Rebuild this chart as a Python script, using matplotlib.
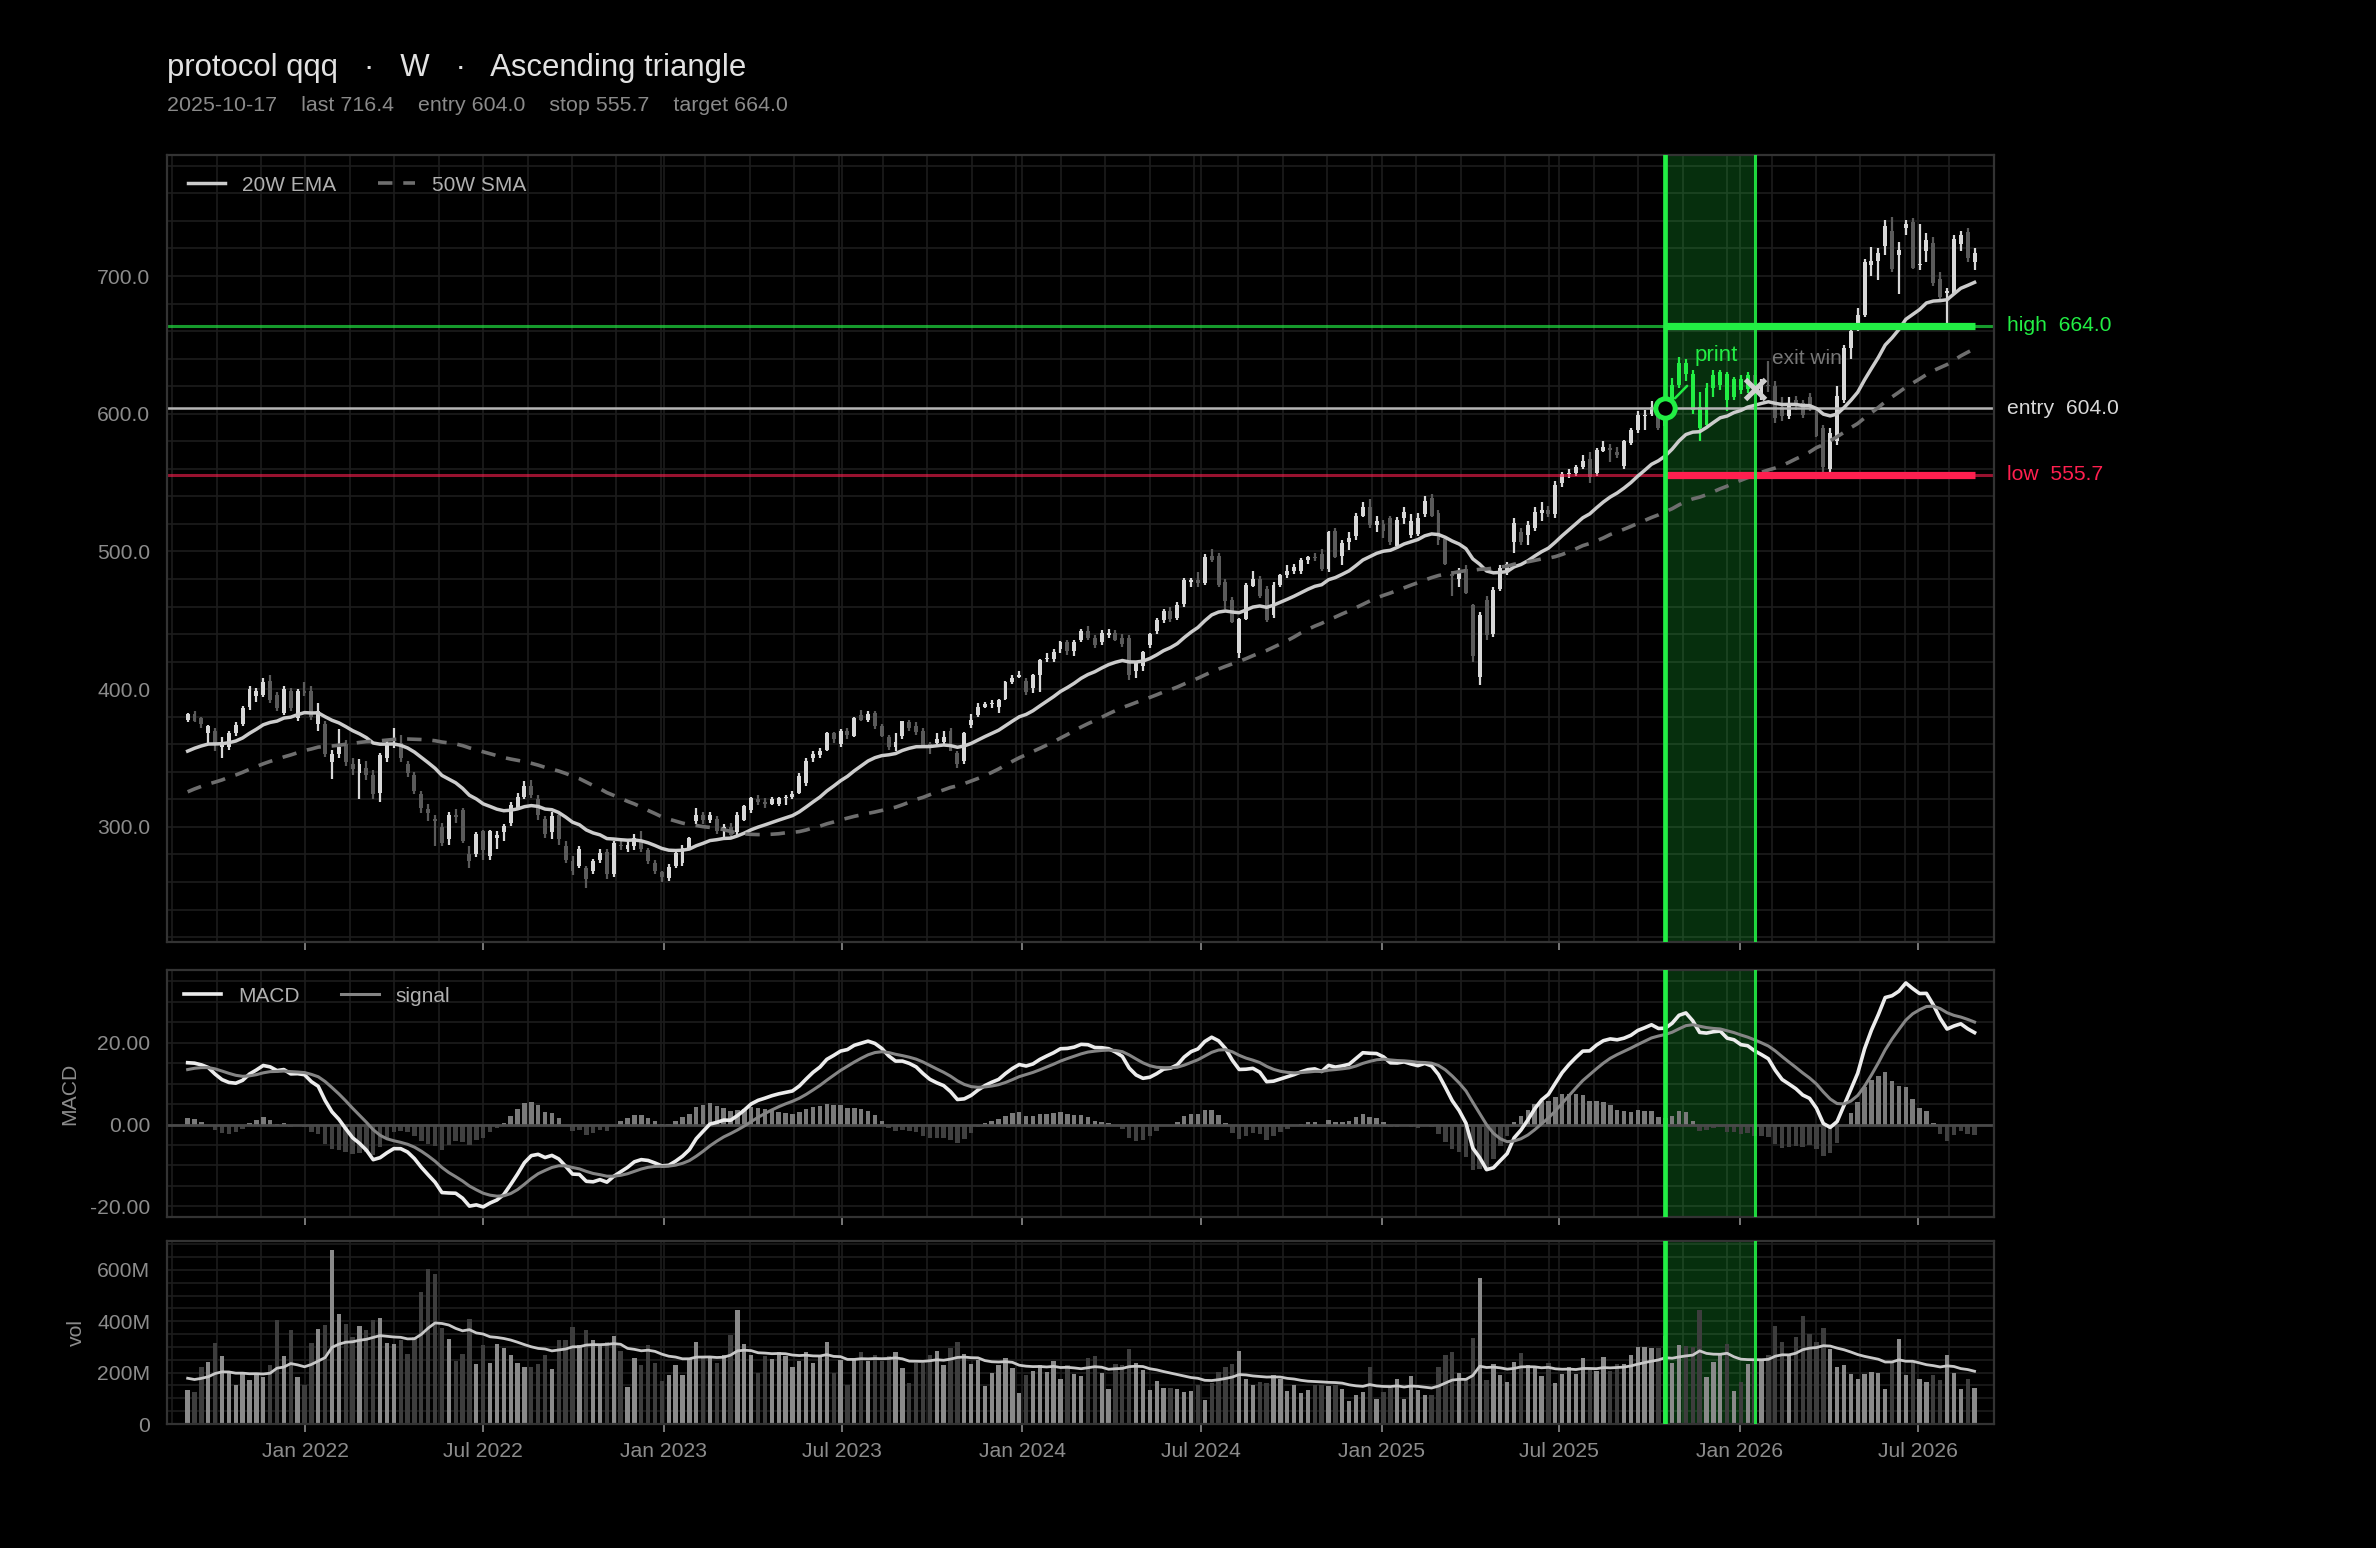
import numpy as np
import pandas as pd
import matplotlib
matplotlib.use('Agg')
import matplotlib.pyplot as plt
import matplotlib.dates as mdates
import matplotlib.transforms as mtrans
from matplotlib.ticker import AutoMinorLocator, MultipleLocator, FormatStrFormatter, FuncFormatter

plt.rcParams['font.family'] = ['Liberation Sans', 'DejaVu Sans']

# ---- data ----
ticker = 'protocol qqq'
timeframe = 'W'
pattern = 'Ascending triangle'
signal_day = '2025-10-17'
exit_day = '2026-01-16'
entry = 604.0
stop = 555.7
target = 664.0

weeks = pd.date_range('2021-09-03', periods=261, freq='W-FRI')

opens = [378, 382, 379, 368, 370, 358, 358, 368, 375, 387, 395, 396, 406, 396, 383, 399, 379, 399, 399, 375,
         375, 347, 353, 360, 346, 339, 343, 338, 325, 350, 360, 361, 346, 338, 324, 313, 306, 300, 291, 309,
         312, 280, 280, 297, 279, 292, 296, 303, 314, 322, 330, 320, 306, 296, 309, 286, 275, 272, 270, 268,
         276, 282, 266, 287, 284, 286, 290, 283, 274, 267, 263, 272, 274, 285, 304, 309, 305, 306, 297, 300,
         296, 305, 312, 320, 318, 317, 317, 321, 322, 325, 332, 350, 352, 356, 368, 360, 370, 366, 381, 378,
         383, 373, 365, 358, 366, 376, 373, 370, 360, 361, 362, 370, 354, 348, 374, 381, 387, 389, 387, 393,
         405, 409, 406, 401, 410, 422, 422, 429, 434, 428, 436, 442, 437, 434, 439, 441, 437, 437, 413, 417,
         432, 442, 450, 457, 452, 462, 478, 479, 477, 497, 497, 478, 465, 426, 451, 475, 480, 473, 454, 476,
         483, 486, 486, 494, 496, 498, 487, 515, 497, 507, 511, 526, 532, 519, 520, 524, 504, 524, 512, 513,
         527, 539, 528, 509, 484, 480, 487, 461, 409, 465, 440, 473, 486, 507, 514, 512, 517, 528, 530, 527,
         550, 556, 557, 561, 567, 557, 573, 575, 572, 562, 579, 588, 598, 600, 603, 591, 604, 621, 637, 629,
         605, 592, 619, 621, 629, 612, 625, 618, 628, 614, 621, 620, 605, 598, 610, 608, 612, 601, 590, 560,
         580, 610, 648, 663, 672, 708, 711, 722, 733, 715, 735, 739, 708, 718, 724, 698, 688, 688, 723, 732,
         710]
highs = [383, 384, 380, 374, 372, 365, 370, 376, 388, 402, 401, 408, 410, 398, 402, 401, 400, 405, 402, 390,
         377, 356, 371, 363, 350, 349, 348, 341, 354, 364, 372, 367, 348, 340, 326, 317, 309, 303, 311, 313,
         314, 286, 296, 298, 298, 297, 302, 318, 325, 333, 334, 323, 308, 311, 311, 290, 279, 286, 272, 277,
         284, 284, 290, 290, 290, 295, 297, 285, 276, 268, 273, 283, 287, 293, 314, 311, 311, 308, 302, 303,
         311, 316, 322, 323, 321, 322, 322, 323, 326, 339, 350, 355, 357, 369, 369, 371, 372, 380, 385, 384,
         384, 375, 367, 368, 377, 378, 376, 372, 362, 368, 370, 372, 355, 369, 382, 390, 391, 392, 393, 406,
         410, 413, 408, 411, 422, 426, 429, 435, 436, 436, 444, 446, 439, 443, 444, 443, 440, 439, 420, 428,
         441, 452, 458, 460, 463, 481, 481, 485, 498, 502, 499, 480, 467, 452, 477, 486, 482, 475, 478, 484,
         490, 491, 495, 497, 499, 502, 515, 517, 508, 514, 528, 536, 538, 526, 523, 526, 525, 532, 527, 528,
         540, 542, 530, 511, 486, 488, 490, 462, 456, 468, 474, 490, 492, 524, 517, 522, 532, 536, 533, 551,
         558, 560, 563, 570, 572, 575, 580, 578, 576, 581, 590, 602, 603, 609, 607, 606, 626, 641, 640, 632,
         616, 622, 632, 632, 630, 627, 628, 630, 632, 625, 638, 624, 612, 612, 613, 610, 615, 603, 592, 590,
         620, 650, 662, 677, 712, 721, 720, 741, 743, 725, 741, 742, 738, 731, 728, 703, 691, 730, 733, 735,
         720]
lows = [376, 376, 372, 361, 355, 350, 356, 366, 373, 385, 391, 394, 390, 384, 381, 384, 377, 395, 378, 370,
        351, 335, 350, 344, 338, 320, 334, 320, 318, 347, 357, 347, 336, 324, 310, 304, 286, 286, 287, 303,
        288, 270, 278, 276, 276, 284, 290, 301, 312, 320, 321, 305, 292, 291, 287, 274, 265, 270, 256, 266,
        274, 262, 264, 283, 282, 283, 282, 273, 266, 260, 261, 270, 272, 283, 302, 302, 303, 295, 292, 291,
        294, 304, 310, 316, 314, 316, 315, 316, 320, 324, 330, 347, 350, 355, 361, 358, 364, 365, 377, 376,
        371, 365, 356, 355, 364, 370, 367, 358, 353, 358, 360, 355, 343, 346, 372, 380, 386, 386, 383, 392,
        404, 408, 396, 397, 398, 420, 420, 426, 425, 424, 434, 436, 430, 432, 437, 435, 431, 407, 408, 413,
        430, 440, 448, 449, 450, 460, 474, 474, 476, 492, 474, 458, 448, 423, 450, 474, 466, 449, 452, 474,
        481, 484, 484, 491, 493, 486, 485, 495, 490, 501, 508, 525, 517, 514, 510, 505, 502, 520, 510, 511,
        525, 525, 505, 490, 468, 474, 469, 420, 403, 436, 438, 471, 483, 499, 505, 505, 515, 522, 525, 524,
        547, 553, 555, 560, 550, 555, 572, 565, 568, 560, 577, 586, 588, 598, 588, 588, 600, 619, 624, 600,
        580, 590, 612, 617, 602, 610, 614, 615, 615, 610, 616, 593, 595, 596, 603, 597, 602, 583, 558, 555,
        577, 608, 640, 660, 670, 700, 697, 715, 703, 687, 730, 705, 704, 710, 693, 683, 666, 686, 718, 710,
        704]
closes = [382, 377, 375, 373, 361, 362, 368, 374, 386, 400, 399, 405, 392, 386, 400, 386, 399, 397, 380, 384,
          353, 353, 358, 347, 342, 346, 338, 324, 352, 361, 361, 350, 339, 326, 314, 310, 304, 288, 309, 307,
          290, 275, 295, 283, 297, 294, 301, 316, 322, 330, 323, 309, 295, 308, 291, 276, 268, 284, 262, 275,
          281, 266, 288, 286, 287, 292, 284, 275, 268, 264, 271, 281, 285, 292, 309, 305, 309, 297, 300, 294,
          309, 315, 321, 318, 317, 320, 321, 322, 324, 337, 348, 353, 355, 368, 364, 370, 367, 379, 378, 382,
          373, 366, 358, 362, 377, 372, 369, 359, 359, 364, 365, 355, 346, 368, 378, 387, 389, 390, 392, 405,
          408, 410, 398, 410, 421, 423, 427, 434, 428, 434, 442, 437, 432, 441, 441, 436, 433, 410, 419, 427,
          440, 450, 457, 451, 461, 479, 479, 477, 496, 494, 476, 464, 449, 451, 476, 480, 468, 450, 476, 483,
          486, 489, 494, 496, 495, 487, 514, 496, 506, 510, 526, 532, 519, 522, 515, 507, 523, 529, 522, 524,
          537, 526, 508, 491, 482, 485, 470, 424, 454, 439, 472, 488, 491, 521, 507, 519, 529, 530, 527, 548,
          556, 557, 561, 566, 554, 574, 576, 574, 570, 580, 588, 599, 599, 605, 590, 603, 621, 637, 629, 603,
          590, 619, 628, 630, 610, 625, 617, 628, 618, 621, 620, 597, 598, 608, 606, 599, 605, 584, 561, 586,
          613, 648, 660, 672, 710, 711, 717, 736, 705, 719, 738, 706, 709, 726, 695, 685, 689, 727, 730, 713,
          716.4]

# weekly volume, millions
volumes = [133, 126, 221, 243, 317, 263, 199, 153, 199, 173, 199, 182, 228, 403, 263, 364, 181, 153, 317, 370,
           387, 676, 429, 390, 337, 382, 364, 406, 413, 316, 312, 325, 273, 337, 512, 605, 582, 372, 329, 247,
           273, 410, 234, 309, 238, 312, 294, 270, 238, 220, 220, 234, 270, 215, 325, 325, 378, 309, 367, 325,
           306, 321, 341, 286, 143, 255, 231, 309, 239, 169, 189, 228, 189, 255, 321, 265, 263, 239, 270, 345,
           442, 312, 269, 200, 263, 252, 282, 263, 221, 247, 282, 239, 260, 321, 198, 251, 150, 251, 282, 247,
           267, 247, 263, 282, 216, 161, 239, 239, 270, 286, 231, 294, 321, 274, 235, 251, 146, 200, 231, 255,
           216, 122, 189, 208, 228, 204, 247, 177, 228, 196, 185, 255, 263, 200, 138, 235, 228, 290, 239, 212,
           134, 169, 142, 142, 138, 126, 130, 150, 95, 161, 204, 221, 235, 286, 177, 150, 165, 161, 189, 177,
           130, 150, 122, 134, 153, 150, 146, 153, 138, 91, 111, 126, 220, 99, 126, 140, 177, 99, 185, 134,
           111, 111, 220, 270, 282, 200, 173, 333, 567, 173, 235, 192, 165, 243, 278, 231, 216, 185, 237, 161,
           196, 220, 196, 255, 216, 208, 259, 208, 235, 235, 270, 298, 298, 295, 295, 341, 237, 309, 302, 298,
           442, 181, 243, 267, 313, 130, 165, 235, 247, 247, 267, 380, 321, 267, 337, 419, 352, 321, 372, 290,
           220, 228, 196, 177, 196, 204, 200, 138, 243, 329, 192, 243, 177, 165, 192, 173, 267, 200, 138, 177,
           142]

# history before the first plotted week, only used to seed the averages
pre_closes = [277, 270, 266, 272, 282, 289, 289, 284, 269, 293, 289, 291, 300, 304, 305, 311, 313, 314, 320, 314,
              326, 315, 330, 335, 331, 313, 307, 314, 311, 314, 327, 334, 341, 337, 337, 333, 325, 325, 333, 335,
              341, 344, 351, 358, 361, 359, 367, 366, 368, 370, 369, 377]
pre_volumes = [190, 175, 200, 185, 170, 195, 180, 178, 188, 172, 183, 190, 176, 186, 181, 179, 184, 177, 182, 180]

# ---- indicators ----
n_pre = len(pre_closes)
all_c = pd.Series(pre_closes + closes, dtype=float)
ema20 = all_c.ewm(span=20, adjust=False).mean().values[n_pre:]
sma50 = all_c.rolling(50).mean().values[n_pre:]
macd_all = all_c.ewm(span=12, adjust=False).mean() - all_c.ewm(span=26, adjust=False).mean()
sig_all = macd_all.ewm(span=9, adjust=False).mean()
macd = macd_all.values[n_pre:]
sig = sig_all.values[n_pre:]
hist = macd - sig
all_v = pd.Series(pre_volumes + volumes, dtype=float)
vol_ma = all_v.ewm(span=20, adjust=False).mean().values[len(pre_volumes):]

o = np.array(opens, float)
h = np.array(highs, float)
l = np.array(lows, float)
c = np.array(closes, float)
v = np.array(volumes, float)
x = mdates.date2num(weeks)
i_sig = list(weeks).index(pd.Timestamp(signal_day))
i_exit = list(weeks).index(pd.Timestamp(exit_day))

# ---- colours ----
BG = '#000000'
GRID = '#1c1c1c'
TXT = '#8c8c8c'
GREEN = '#22ee44'
RED = '#ff1f4f'
UP = '#d8d8d8'
DOWN = '#5a5a5a'
TS = 7.6  # tick label size

fig = plt.figure(figsize=(11.88, 7.74), dpi=200, facecolor=BG)
ax = fig.add_axes([0.0703, 0.3915, 0.769, 0.5085])
axm = fig.add_axes([0.0703, 0.2138, 0.769, 0.1596], sharex=ax)
axv = fig.add_axes([0.0703, 0.0801, 0.769, 0.1182], sharex=ax)

for a in (ax, axm, axv):
    a.set_facecolor(BG)
    for s in a.spines.values():
        s.set_color('#333333')
        s.set_linewidth(0.8)
    a.set_axisbelow(True)
    a.grid(True, which='both', color=GRID, lw=0.6)
    a.tick_params(colors=TXT, labelsize=TS, length=3, width=0.6)
    a.tick_params(which='minor', length=0)
    a.tick_params(axis='y', length=0, pad=6)
    a.axvspan(x[i_sig], x[i_exit], color=GREEN, alpha=0.2, lw=0, zorder=1)
    a.axvline(x[i_sig], color=GREEN, lw=1.7, zorder=5)
    a.axvline(x[i_exit], color=GREEN, lw=1.1, alpha=0.9, zorder=5)

ax.xaxis.set_major_locator(mdates.MonthLocator(bymonth=[1, 7]))
ax.xaxis.set_major_formatter(mdates.DateFormatter('%b %Y'))
ax.xaxis.set_minor_locator(AutoMinorLocator(4))
ax.set_xlim(x[0] - 21, x[-1] + 20)
ax.tick_params(axis='x', labelbottom=False)
axm.tick_params(axis='x', labelbottom=False)

# ---- price panel ----
up = c >= o
cols = np.where(up, UP, DOWN).astype(object)
cols[i_sig:i_exit] = GREEN
ax.vlines(x, l, h, colors=list(cols), lw=0.8, zorder=2)
body_lo = np.minimum(o, c)
body_h = np.maximum(np.abs(c - o), 0.8)
ax.bar(x, body_h, bottom=body_lo, width=4.0, color=list(cols), lw=0, zorder=2)

ax.plot(x, ema20, color='#cccccc', lw=1.25, zorder=3, label='20W EMA')
ax.plot(x, sma50, color='#6e6e6e', lw=1.3, ls=(0, (4, 3)), zorder=3, label='50W SMA')

ax.axhline(target, color=GREEN, lw=1.1, alpha=0.65, zorder=2)
ax.axhline(entry, color='#b5b5b5', lw=0.9, zorder=2)
ax.axhline(stop, color=RED, lw=1.1, alpha=0.6, zorder=2)
ax.hlines(target, x[i_sig], x[-1], color=GREEN, lw=2.6, zorder=4)
ax.hlines(stop, x[i_sig], x[-1], color=RED, lw=2.6, zorder=4)

tr = mtrans.blended_transform_factory(ax.transAxes, ax.transData)
ax.text(1.007, target, f'high  {target:.1f}', transform=tr, color=GREEN, fontsize=7.6, va='center')
ax.text(1.007, entry, f'entry  {entry:.1f}', transform=tr, color='#d8d8d8', fontsize=7.6, va='center')
ax.text(1.007, stop, f'low  {stop:.1f}', transform=tr, color=RED, fontsize=7.6, va='center')

ax.annotate('print', xy=(x[i_sig], entry), xytext=(x[i_sig] + 52, 642), color=GREEN, fontsize=8,
            ha='center', va='center',
            arrowprops=dict(arrowstyle='-', color=GREEN, lw=0.9, shrinkA=7, shrinkB=5), zorder=7)
ax.plot(x[i_sig], entry, 'o', ms=7, mfc=BG, mec=GREEN, mew=1.8, zorder=7)
ax.plot(x[i_exit], c[i_exit], 'x', ms=7, mec='#cfcfcf', mew=1.8, zorder=7)
ax.text(x[i_exit] + 53, 640, 'exit win', color='#777777', fontsize=7.5, ha='center', va='center', zorder=7)

ax.set_ylim(216.5, 788)
ax.yaxis.set_major_locator(MultipleLocator(100))
ax.yaxis.set_minor_locator(AutoMinorLocator(5))
ax.yaxis.set_major_formatter(FormatStrFormatter('%.1f'))
ax.legend(loc='upper left', ncol=2, frameon=False, fontsize=7.5, labelcolor='#b0b0b0',
          handlelength=1.8, columnspacing=2.0, borderaxespad=0.6)

# ---- macd panel ----
axm.bar(x, hist, width=4.6, color=np.where(hist >= 0, '#7a7a7a', '#404040'), lw=0, zorder=2)
axm.axhline(0, color='#4a4a4a', lw=1.0, zorder=2)
axm.plot(x, macd, color='#ececec', lw=1.3, zorder=3, label='MACD')
axm.plot(x, sig, color='#858585', lw=1.1, zorder=3, label='signal')
axm.set_ylim(-22.6, 37.8)
axm.yaxis.set_major_locator(MultipleLocator(20))
axm.yaxis.set_minor_locator(AutoMinorLocator(4))
axm.yaxis.set_major_formatter(FormatStrFormatter('%.2f'))
axm.set_ylabel('MACD', color=TXT, fontsize=7.6)
axm.legend(loc='upper left', ncol=2, frameon=False, fontsize=7.5, labelcolor='#b0b0b0',
           handlelength=1.8, columnspacing=2.0, borderaxespad=0.4)

# ---- volume panel ----
vcols = np.where(up, '#8a8a8a', '#3d3d3d')
axv.bar(x, v, width=4.4, color=vcols, lw=0, zorder=2)
axv.plot(x, vol_ma, color='#c8c8c8', lw=1.0, zorder=3)
axv.set_ylim(0, 712)
axv.yaxis.set_major_locator(MultipleLocator(200))
axv.yaxis.set_minor_locator(AutoMinorLocator(4))
axv.yaxis.set_major_formatter(FuncFormatter(lambda val, pos: '0' if val == 0 else f'{val:.0f}M'))
axv.set_ylabel('vol', color=TXT, fontsize=7.6)

# ---- titles ----
fig.text(0.0703, 0.956, f'{ticker}   ·   {timeframe}   ·   {pattern}', color='#e2e2e2', fontsize=11.2, va='center')
fig.text(0.0703, 0.932, f'{signal_day}    last {c[-1]:.1f}    entry {entry:.1f}    stop {stop:.1f}    target {target:.1f}',
         color='#8a8a8a', fontsize=7.7, va='center')

fig.savefig('out.png', dpi=200, facecolor=BG)
